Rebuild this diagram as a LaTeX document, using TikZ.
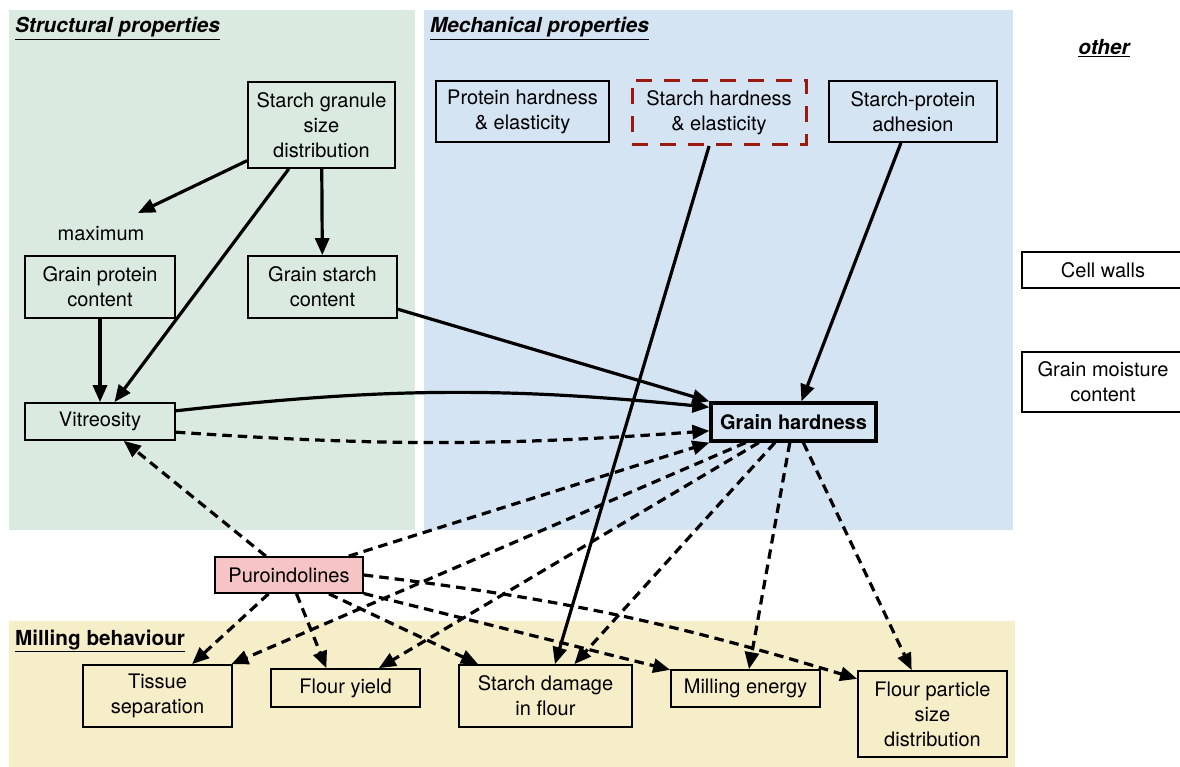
\documentclass[tikz,border=0pt]{standalone}
\usepackage{fontspec}
\setmainfont{TeX Gyre Heros}
\usetikzlibrary{arrows.meta,calc}
\definecolor{bggreen}{RGB}{218,234,224}
\definecolor{bgblue}{RGB}{212,228,242}
\definecolor{bgyellow}{RGB}{246,237,201}
\definecolor{pinkfill}{RGB}{246,196,196}
\definecolor{darkred}{RGB}{155,25,15}
\begin{document}
\begin{tikzpicture}[x=1pt,y=1pt,font=\fontsize{20}{25}\selectfont,
  box/.style={draw, line width=1.7pt, align=center, inner sep=0pt},
  ttl/.style={anchor=base west, inner sep=0pt, font=\fontsize{20.7}{25}\selectfont\bfseries\itshape},
  arr/.style={line width=3.2pt, -{Triangle[length=17pt,width=14pt]}},
  darr/.style={arr, dash pattern=on 9.5pt off 6pt}]
\useasboundingbox (0,0) rectangle (1180,-767);
% backgrounds
\fill[bggreen] (9,-10) rectangle (415,-530);
\fill[bgblue] (424,-10) rectangle (1013,-530);
\fill[bgyellow] (9,-621) rectangle (1015,-767);
% titles
\node[ttl] (t1) at (15,-33) {\underline{Structural properties}};
\node[ttl] (t2) at (430,-33) {\underline{Mechanical properties}};
\node[ttl, anchor=base] (t3) at (1104,-55) {\underline{other}};
\node[ttl, font=\fontsize{20.7}{25}\selectfont\bfseries] (t4) at (15,-645) {\underline{Milling behaviour}};
% nodes
\node[box, minimum width=147pt, minimum height=86pt] (sg) at (321.5,-125) {Starch granule\\size\\distribution};
\node[inner sep=0pt] (max) at (101,-234) {maximum};
\coordinate (maxtip) at (138,-213);
\node[box, minimum width=150pt, minimum height=62pt] (gpc) at (100,-287) {Grain protein\\content};
\node[box, minimum width=149pt, minimum height=62pt] (gsc) at (322.5,-287) {Grain starch\\content};
\node[box, minimum width=150pt, minimum height=37pt] (vit) at (100,-421.5) {Vitreosity};
\node[box, minimum width=173pt, minimum height=61pt] (phe) at (522.5,-111.5) {Protein hardness\\\& elasticity};
\node[box, draw=darkred, line width=3pt, dash pattern=on 16pt off 12pt, minimum width=174pt, minimum height=64pt] (she) at (719,-112.5) {Starch hardness\\\& elasticity};
\node[box, minimum width=168pt, minimum height=61pt] (spa) at (913,-111.5) {Starch-protein\\adhesion};
\node[box, minimum width=162pt, minimum height=36pt] (cw) at (1103,-270) {Cell walls};
\node[box, minimum width=162pt, minimum height=60pt] (gmc) at (1103,-382) {Grain moisture\\content};
\node[box, line width=3.2pt, minimum width=165pt, minimum height=38pt, font=\fontsize{20}{25}\selectfont\bfseries] (gh) at (793.5,-422) {Grain hardness};
\node[box, fill=pinkfill, minimum width=148pt, minimum height=36pt] (p) at (289,-575) {Puroindolines};
\node[box, minimum width=149pt, minimum height=62pt] (ts) at (157.5,-696) {Tissue\\separation};
\node[box, minimum width=149pt, minimum height=38pt] (fy) at (345.5,-688) {Flour yield};
\node[box, minimum width=173pt, minimum height=62pt] (sd) at (545.5,-696) {Starch damage\\in flour};
\node[box, minimum width=149pt, minimum height=37pt] (me) at (745.5,-688.5) {Milling energy};
\node[box, minimum width=149pt, minimum height=86pt] (fp) at (932.5,-714) {Flour particle\\size\\distribution};
% solid arrows
\draw[arr] (sg) -- (maxtip);
\draw[arr] (sg) -- (vit);
\draw[arr] (sg) -- (gsc);
\draw[arr] (gpc) -- (vit);
\draw[arr] (gsc) -- (gh.north west);
\draw[arr] (vit.8) to[bend left=6] (gh.170);
\draw[arr] (she) -- (sd);
\draw[arr] (spa) -- (gh);
% dashed arrows
\draw[darr] (vit.-8) to[bend right=4] (gh.186);
\draw[darr] (p) -- (vit);
\draw[darr] (p) -- (gh.south west);
\draw[darr] (gh) -- (ts);
\draw[darr] (gh) -- (fy);
\draw[darr] (gh) -- (sd);
\draw[darr] (gh) -- (me);
\draw[darr] (gh) -- (fp);
\draw[darr] (p) -- (ts);
\draw[darr] (p) -- (fy.134);
\draw[darr] (p) -- (sd);
\draw[darr] (p) -- (me);
\draw[darr] (p.east) to[bend left=5] (fp.155);
\end{tikzpicture}
\end{document}
